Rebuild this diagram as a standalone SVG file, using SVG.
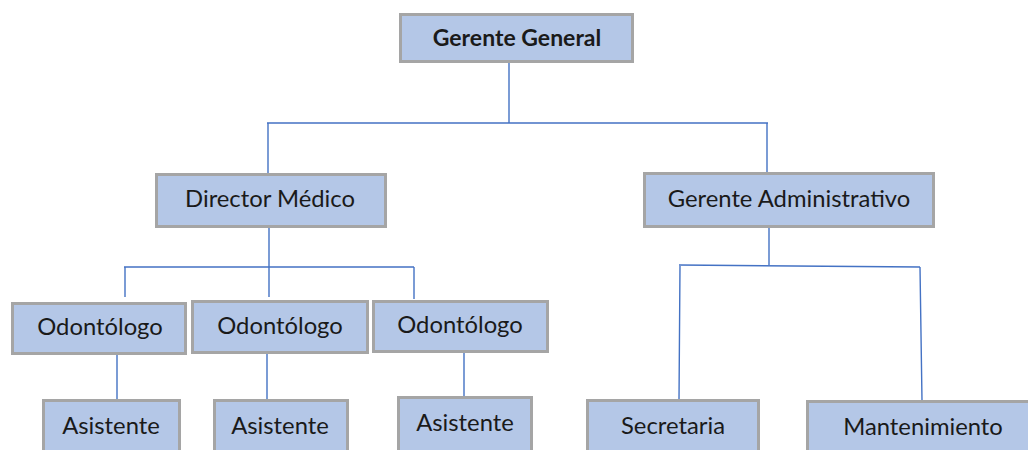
<svg xmlns="http://www.w3.org/2000/svg" width="1028" height="450" viewBox="0 0 1028 450">
<style>
.box{fill:#b4c7e7;stroke:#a5a5a5;stroke-width:3}
.t{font-family:Lato,"Liberation Sans",sans-serif;font-size:23.8px;fill:#1a1a1a;text-anchor:middle}
.b{font-weight:bold;font-size:23px}
.c{fill:none;stroke:#4472c4;stroke-width:1.4}
</style>
<rect width="1028" height="450" fill="#ffffff"/>
<g id="connectors">
<path class="c" d="M509 63V123M267 123H768M268 123V173M767 123V172"/>
<path class="c" d="M269 228V267M124 267H414M125 267V297M269 267V297M414 267V299"/>
<path class="c" d="M117 355V399M267 354V399M464 353V396"/>
<path class="c" d="M769 228V265M679 265L920 267M680 265L679 400M920 267L922 401"/>
</g>
<g id="gerente-general"><rect class="box" x="400.5" y="14.5" width="232" height="47"/><text class="t b" x="517" y="46">Gerente General</text></g>
<g id="director-medico"><rect class="box" x="156.5" y="174.5" width="229" height="52"/><text class="t" x="270" y="207">Director Médico</text></g>
<g id="gerente-administrativo"><rect class="box" x="644.5" y="173.5" width="289" height="53"/><text class="t" x="789" y="207">Gerente Administrativo</text></g>
<g id="odontologo-1"><rect class="box" x="12.5" y="303.5" width="173" height="50"/><text class="t" x="100" y="335">Odontólogo</text></g>
<g id="odontologo-2"><rect class="box" x="192.5" y="301.5" width="175" height="51"/><text class="t" x="280" y="334">Odontólogo</text></g>
<g id="odontologo-3"><rect class="box" x="373.5" y="301.5" width="174" height="50"/><text class="t" x="460" y="333">Odontólogo</text></g>
<g id="asistente-1"><rect class="box" x="43.5" y="400.5" width="136" height="60"/><text class="t" x="111" y="434">Asistente</text></g>
<g id="asistente-2"><rect class="box" x="214.5" y="400.5" width="133" height="60"/><text class="t" x="280" y="434">Asistente</text></g>
<g id="asistente-3"><rect class="box" x="398.5" y="397.5" width="133" height="60"/><text class="t" x="465" y="431">Asistente</text></g>
<g id="secretaria"><rect class="box" x="587.5" y="400.5" width="171" height="60"/><text class="t" x="673" y="434">Secretaria</text></g>
<g id="mantenimiento"><rect class="box" x="807.5" y="401.5" width="225" height="60"/><text class="t" x="923" y="435">Mantenimiento</text></g>
</svg>
